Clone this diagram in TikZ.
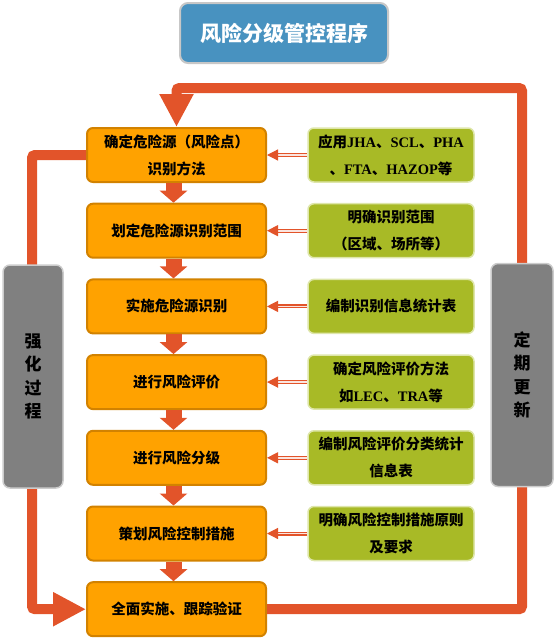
\documentclass[tikz,border=0pt]{standalone}
\usepackage{fontspec}
\setmainfont{Noto Sans CJK SC}
\newfontfamily\lat{Liberation Serif}
\usetikzlibrary{arrows.meta, positioning}
\definecolor{stepfill}{RGB}{255,162,0}
\definecolor{stepline}{RGB}{210,130,0}
\definecolor{methfill}{RGB}{168,186,38}
\definecolor{methline}{RGB}{222,230,170}
\definecolor{grayfill}{RGB}{128,128,128}
\definecolor{loopred}{RGB}{226,84,42}
\definecolor{titlefill}{RGB}{72,146,192}

\begin{document}
\begin{tikzpicture}[x=1pt,y=-1pt,
  txt/.style={font=\fontsize{14.5}{27}\selectfont\bfseries, align=center},
  stepbox/.style={txt, rounded corners=6pt, fill=stepfill, draw=stepline,
    line width=2pt, minimum width=179pt, minimum height=54pt},
  methbox/.style={txt, rounded corners=6pt, fill=methfill, draw=methline,
    line width=1.5pt, minimum width=166pt, minimum height=54pt},
  sidebox/.style={rounded corners=7pt, fill=grayfill, draw=white!80!black,
    line width=1.5pt, minimum width=60pt, minimum height=223pt, align=center,
    font=\fontsize{17}{23.5}\selectfont\bfseries},
  bigloop/.style={loopred, line width=10pt, rounded corners=3pt,
    -{Triangle[length=33pt,width=32pt]}},
  downarr/.style={loopred, line width=16pt, -{Triangle[length=12pt,width=27pt]}},
  sidearr/.style={draw=loopred, line width=1.2pt, double=white!85!loopred,
    double distance=1.6pt, -{Triangle[length=11pt,width=11pt]}}]
\useasboundingbox (0,0) rectangle (555,643);

% title
\node[rounded corners=8pt, fill=titlefill, draw=white!78!black, line width=2pt,
  minimum width=208pt, minimum height=60pt, text=white,
  font=\fontsize{21}{21}\selectfont\bfseries] (title) at (284,33) {风险分级管控程序};

% steps
\node[stepbox] (s1) at (176.5,155.0) {确定危险源（风险点）\\识别方法};
\node[stepbox] (s2) at (176.5,230.7) {划定危险源识别范围};
\node[stepbox] (s3) at (176.5,306.4) {实施危险源识别};
\node[stepbox] (s4) at (176.5,382.1) {进行风险评价};
\node[stepbox] (s5) at (176.5,457.8) {进行风险分级};
\node[stepbox] (s6) at (176.5,533.5) {策划风险控制措施};
\node[stepbox] (s7) at (176.5,609.2) {全面实施、跟踪验证};

% methods
\node[methbox] (m1) at (391,155.0) {应用{\lat JHA}、{\lat SCL}、{\lat PHA}\\、{\lat FTA}、{\lat HAZOP}等};
\node[methbox] (m2) at (391,230.7) {明确识别范围\\（区域、场所等）};
\node[methbox] (m3) at (391,306.4) {编制识别信息统计表};
\node[methbox] (m4) at (391,382.1) {确定风险评价方法\\如{\lat LEC}、{\lat TRA}等};
\node[methbox] (m5) at (391,457.8) {编制风险评价分类统计\\信息表};
\node[methbox] (m6) at (391,533.5) {明确风险控制措施原则\\及要求};

% step to step
\foreach \i/\j in {1/2,2/3,3/4,4/5,5/6,6/7}
  \draw[downarr] ([xshift=-3pt]s\i.south) -- ([xshift=-3pt]s\j.north);

% method to step
\foreach \i in {1,...,6}
  \draw[sidearr] (m\i.west) -- (s\i.east);

% loops
\draw[bigloop] (s7.east) -- (522,609.2) -- (522,88) -- (176.5,88) -- (s1.north);
\draw[bigloop] (s1.west) -- (32,155) -- (32,609.2) -- (s7.west);

% side labels
\node[sidebox] (strong) at (33,376.5) {强\\化\\过\\程};
\node[sidebox, minimum width=62pt] (renew) at (522,375) {定\\期\\更\\新};
\end{tikzpicture}
\end{document}
